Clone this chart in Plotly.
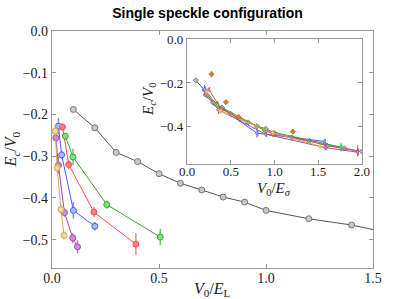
import plotly.graph_objects as go

# ---------------- main panel data (V0/E_L , Ec/V0) ----------------
gray_x = [0.1, 0.2, 0.3, 0.4, 0.5, 0.6, 0.7, 0.8, 0.9, 1.0, 1.2, 1.4, 1.6, 1.8, 2.0]
gray_y = [-0.188, -0.232, -0.291, -0.313, -0.342, -0.365, -0.381, -0.398, -0.41, -0.43, -0.45, -0.465, -0.487, -0.5, -0.514]

blue_x = [0.03, 0.045, 0.1, 0.2]
blue_y = [-0.228, -0.297, -0.43, -0.468]
blue_e = [0.02, 0.01, 0.02, 0.01]

red_x = [0.049, 0.078, 0.196, 0.392]
red_y = [-0.23, -0.32, -0.434, -0.511]
red_e = [0.008, 0.012, 0.012, 0.026]

green_x = [0.062, 0.098, 0.256, 0.506]
green_y = [-0.252, -0.302, -0.416, -0.494]
green_e = [0.008, 0.02, 0.01, 0.02]

purple_x = [0.018, 0.03, 0.058, 0.097, 0.119]
purple_y = [-0.256, -0.322, -0.435, -0.496, -0.517]
purple_e = [0.008, 0.02, 0.01, 0.012, 0.016]

yellow_x = [0.015, 0.024, 0.042, 0.056]
yellow_y = [-0.24, -0.328, -0.428, -0.49]
yellow_e = [0.015, 0.012, 0.012, 0.01]

# ---------------- inset data (V0/E_sigma , Ec/V0) ----------------
in_blue_x = [0.2, 0.33, 0.8, 1.57]
in_red_x = [0.25, 0.39, 0.98, 1.95]
in_green_x = [0.21, 0.35, 0.88, 1.76]
in_purple_x = [0.21, 0.36, 0.9, 1.58, 1.95]
in_yellow_x = [0.22, 0.38, 0.98, 1.52]
orange_x = [0.28, 0.445, 0.59, 1.21]
orange_y = [-0.16, -0.288, -0.356, -0.423]
orange_e = [0.015, 0.01, 0.012, 0.01]

x_ticks = [0.0, 0.5, 1.0, 1.5]
y_ticks = [0.0, -0.1, -0.2, -0.3, -0.4, -0.5]
in_x_ticks = [0.0, 0.5, 1.0, 1.5, 2.0]
in_y_ticks = [0.0, -0.2, -0.4]

title_text = "Single speckle configuration"

series = [
    (blue_x, blue_y, blue_e, in_blue_x, "#4d5bff", "#a6bcff"),
    (red_x, red_y, red_e, in_red_x, "#ff4d4d", "#ff8080"),
    (green_x, green_y, green_e, in_green_x, "#3aa63a", "#80e080"),
    (purple_x, purple_y, purple_e, in_purple_x, "#a347b0", "#d090d4"),
    (yellow_x, yellow_y, yellow_e, in_yellow_x, "#d4a84a", "#f2d69a"),
]

fig = go.Figure()

def rgba(hexc, a):
    h = hexc.lstrip("#")
    return "rgba(%d,%d,%d,%.2f)" % (int(h[0:2], 16), int(h[2:4], 16), int(h[4:6], 16), a)

# main gray curve
fig.add_trace(go.Scatter(
    x=gray_x, y=gray_y, mode="lines+markers", xaxis="x", yaxis="y",
    line=dict(color="#555555", width=1),
    marker=dict(symbol="circle", size=6, color="#c8c8c8", line=dict(color="#777777", width=1)),
    showlegend=False))

for sx, sy, se, ix, lc, fc in series:
    fig.add_trace(go.Scatter(
        x=sx, y=sy, mode="lines+markers", xaxis="x", yaxis="y",
        line=dict(color=lc, width=1),
        error_y=dict(type="data", array=se, visible=True, color=rgba(lc, 0.7), thickness=1.5, width=0),
        marker=dict(symbol="circle", size=6, color=fc, line=dict(color=lc, width=1)),
        showlegend=False))

# inset
fig.add_trace(go.Scatter(
    x=gray_x, y=gray_y, mode="lines+markers", xaxis="x2", yaxis="y2",
    line=dict(color="#555555", width=1),
    marker=dict(symbol="diamond", size=4, color="#bbbbbb", line=dict(color="#666666", width=0.8)),
    showlegend=False))

for sx, sy, se, ix, lc, fc in series:
    fig.add_trace(go.Scatter(
        x=ix, y=sy, mode="lines+markers", xaxis="x2", yaxis="y2",
        line=dict(color=lc, width=1),
        error_y=dict(type="data", array=se, visible=True, color=rgba(lc, 0.8), thickness=1.2, width=0),
        marker=dict(symbol="triangle-left", size=4, color=fc, line=dict(color=lc, width=0.8)),
        showlegend=False))

fig.add_trace(go.Scatter(
    x=orange_x, y=orange_y, mode="markers", xaxis="x2", yaxis="y2",
    error_y=dict(type="data", array=orange_e, visible=True, color="rgba(204,120,40,0.8)", thickness=1.2, width=0),
    marker=dict(symbol="diamond", size=4, color="#cc7a2e", line=dict(color="#b06020", width=0.6)),
    showlegend=False))

serif = "Liberation Serif, DejaVu Serif, serif"
tick_font = dict(family=serif, size=14, color="#222222")
small_font = dict(family=serif, size=13, color="#222222")
ax_common = dict(showgrid=False, zeroline=False, showline=True, linecolor="#999999", linewidth=1.2,
                 mirror="ticks", ticks="inside", ticklen=4, tickcolor="#999999", tickwidth=1,
                 automargin=False)

def neg(v):
    return ("\u2212%.1f" % -v) if v < 0 else "%.1f" % v

fig.update_layout(
    width=415, height=299,
    margin=dict(l=52, r=42, t=31, b=31, autoexpand=False),
    paper_bgcolor="white", plot_bgcolor="white",
    title=dict(text="<b>" + title_text + "</b>", x=0.5, xanchor="center", y=0.955, yanchor="middle",
               font=dict(family="Liberation Sans, Arial, sans-serif", size=14, color="black")),
    xaxis=dict(domain=[0, 1], range=[0, 1.5], tickvals=x_ticks, ticktext=["%.1f" % v for v in x_ticks],
               tickfont=tick_font, ticklabelstandoff=-3, **ax_common),
    yaxis=dict(domain=[0, 1], range=[-0.568, 0.0], tickvals=y_ticks,
               ticktext=[neg(v) for v in y_ticks], tickfont=tick_font, **ax_common),
    xaxis2=dict(domain=[0.4206, 0.9657], anchor="y2", range=[0, 2.0], tickvals=in_x_ticks,
                ticktext=["%.1f" % v for v in in_x_ticks], tickfont=small_font,
                ticklabelstandoff=-5, **ax_common),
    yaxis2=dict(domain=[0.439, 0.965], anchor="x2", range=[-0.571, 0.0], tickvals=in_y_ticks,
                ticktext=[neg(v) for v in in_y_ticks], tickfont=small_font, **ax_common),
    annotations=[
        dict(text="<i>V</i><sub>0</sub>/<i>E</i><sub>L</sub>", xref="paper", yref="paper",
             x=0.5, y=-0.09, xanchor="center", yanchor="middle", showarrow=False,
             font=dict(family=serif, size=16, color="#222222")),
        dict(text="<i>E<sub>c</sub></i>/<i>V</i><sub>0</sub>", xref="paper", yref="paper",
             x=-0.125, y=0.5, xanchor="center", yanchor="middle", textangle=-90, showarrow=False,
             font=dict(family=serif, size=16, color="#222222")),
        dict(text="<i>V</i><sub>0</sub>/<i>E<sub>σ</sub></i>", xref="paper", yref="paper",
             x=0.693, y=0.333, xanchor="center", yanchor="middle", showarrow=False,
             font=dict(family=serif, size=15, color="#222222")),
        dict(text="<i>E<sub>c</sub></i>/<i>V</i><sub>0</sub>", xref="paper", yref="paper",
             x=0.3, y=0.71, xanchor="center", yanchor="middle", textangle=-90, showarrow=False,
             font=dict(family=serif, size=15, color="#222222")),
    ],
)

fig.write_html("out.html", config={"displayModeBar": False},
               post_script="document.body.style.margin='0';document.body.style.padding='0';")
